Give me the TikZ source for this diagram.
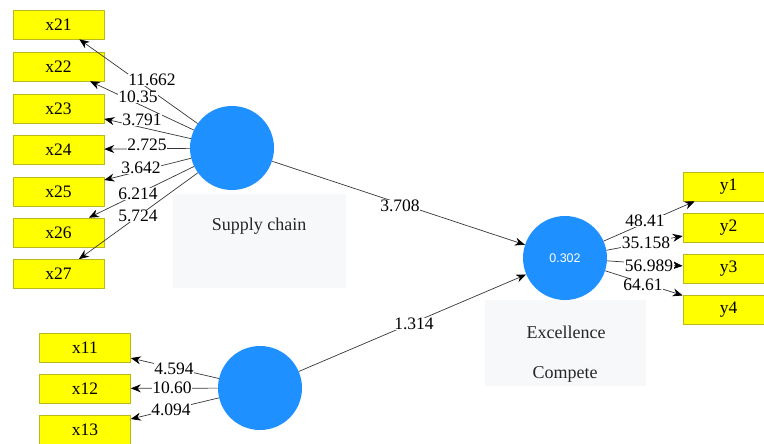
\documentclass[tikz,border=0pt]{standalone}
\usepackage{fontspec}
\setmainfont{Liberation Serif}
\newfontfamily\timesface{Liberation Serif}
\newfontfamily\uisans{Liberation Sans}
\usetikzlibrary{arrows.meta}
\definecolor{indyellow}{RGB}{255,255,0}
\definecolor{indedge}{RGB}{185,185,30}
\definecolor{lvblue}{RGB}{30,144,255}
\definecolor{panel}{RGB}{247,248,250}
\definecolor{wire}{RGB}{55,55,55}

\begin{document}
\begin{tikzpicture}[x=1pt,y=-1pt,
  indicator/.style={draw=indedge, fill=indyellow, line width=0.6pt,
    minimum width=91pt, minimum height=29pt, inner sep=0pt,
    font=\timesface\fontsize{17.5}{20}\selectfont},
  latent/.style={circle, fill=lvblue, minimum size=84pt, inner sep=0pt,
    text=white, font=\uisans\fontsize{12.5}{14}\selectfont},
  caption/.style={font=\timesface\fontsize{18}{20}\selectfont, text=black!85},
  weight/.style={fill=white, inner sep=0.5pt, font=\timesface\fontsize{17.5}{20}\selectfont},
  link/.style={draw=wire, line width=0.7pt, -{Stealth[length=10pt,width=8pt,color=black]}},
]
\useasboundingbox (0,0) rectangle (764,444);
\clip (0,0) rectangle (764,444);

% caption panels under the latent variables
\fill[panel] (173,194) rectangle (346,288);
\fill[panel] (485,300) rectangle (646,386);
\node[caption] (sclabel) at (259,226) {Supply chain};
\node[caption] (eclabel1) at (566,332) {Excellence};
\node[caption] (eclabel2) at (565,374) {Compete};

% latent variables
\node[latent] (sc) at (232,148) {};
\node[latent] (lc) at (260,388) {};
\node[latent] (ec) at (565,258) {0.302};

% supply chain indicators
\node[indicator] (x21) at (58.5,24.5) {x21};
\node[indicator] (x22) at (58.5,66.5) {x22};
\node[indicator] (x23) at (58.5,108.5) {x23};
\node[indicator] (x24) at (58.5,149.5) {x24};
\node[indicator] (x25) at (58.5,191.5) {x25};
\node[indicator] (x26) at (58.5,232.5) {x26};
\node[indicator] (x27) at (58.5,274) {x27};

% lower construct indicators
\node[indicator] (x11) at (85,347.5) {x11};
\node[indicator] (x12) at (85,388.5) {x12};
\node[indicator] (x13) at (85,430) {x13};

% outcome indicators
\node[indicator] (y1) at (728.5,186.5) {y1};
\node[indicator] (y2) at (728.5,227.5) {y2};
\node[indicator] (y3) at (728.5,269) {y3};
\node[indicator] (y4) at (728.5,310) {y4};

% outer loadings
\foreach \t in {x21,x22,x23,x24,x25,x26,x27} \draw[link] (sc) -- (\t);
\foreach \t in {x11,x12,x13} \draw[link] (lc) -- (\t);
\foreach \t in {y1,y2,y3,y4} \draw[link] (ec) -- (\t);

% path coefficients
\draw[link] (sc) -- (ec);
\draw[link] (lc) -- (ec);

% t-values
\node[weight] (w21) at (152,80) {11.662};
\node[weight] (w22) at (138,97) {10.35};
\node[weight] (w23) at (142,120) {3.791};
\node[weight] (w24) at (147,145) {2.725};
\node[weight] (w25) at (141,168) {3.642};
\node[weight] (w26) at (138,194) {6.214};
\node[weight] (w27) at (138,216) {5.724};

\node[weight] (w11) at (174,369) {4.594};
\node[weight] (w12) at (172,388) {10.60};
\node[weight] (w13) at (171,410) {4.094};

\node[weight] (wy1) at (645,221) {48.41};
\node[weight] (wy2) at (646,243) {35.158};
\node[weight] (wy3) at (649,266) {56.989};
\node[weight] (wy4) at (643,285) {64.61};

\node[weight] (wsc) at (400,206) {3.708};
\node[weight] (wlc) at (414,324) {1.314};
\end{tikzpicture}
\end{document}
